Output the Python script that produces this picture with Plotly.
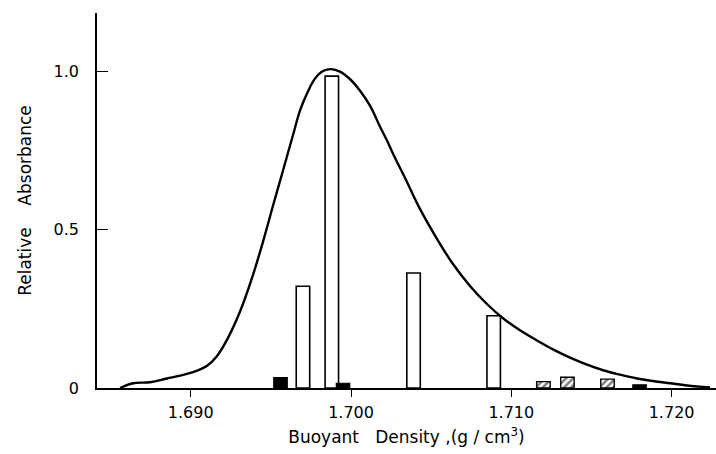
import plotly.graph_objects as go

# Density-gradient absorbance profile (smooth curve)
curve_density = [1.68559, 1.68640, 1.68746, 1.68852, 1.68933, 1.69014, 1.69102, 1.69164,
                 1.69226, 1.69308, 1.69389, 1.69451, 1.69513, 1.69557, 1.69638, 1.69682,
                 1.69726, 1.69775, 1.69825, 1.69875, 1.69931, 1.69994, 1.70056, 1.70119,
                 1.70181, 1.70225, 1.70262, 1.70349, 1.70430, 1.70537, 1.70636, 1.70742,
                 1.70848, 1.70948, 1.71054, 1.71160, 1.71260, 1.71366, 1.71472, 1.71572,
                 1.71678, 1.71784, 1.71884, 1.71990, 1.72096, 1.72240]
curve_absorbance = [0.000, 0.015, 0.018, 0.030, 0.039, 0.050, 0.070, 0.101,
                    0.152, 0.242, 0.358, 0.462, 0.575, 0.653, 0.798, 0.876,
                    0.930, 0.976, 1.000, 1.006, 0.998, 0.974, 0.938, 0.890,
                    0.824, 0.780, 0.739, 0.650, 0.565, 0.470, 0.391, 0.322,
                    0.265, 0.220, 0.182, 0.150, 0.122, 0.096, 0.074, 0.056,
                    0.042, 0.030, 0.022, 0.015, 0.008, 0.002]

# Open bars
open_density = [1.6970, 1.6988, 1.7039, 1.7089]
open_height = [0.321, 0.984, 0.363, 0.228]

# Filled (black) bars
filled_density = [1.6956, 1.6995, 1.7180]
filled_height = [0.033, 0.015, 0.010]

# Hatched bars
hatched_density = [1.7120, 1.7135, 1.7160]
hatched_height = [0.020, 0.034, 0.028]

x_tick_vals = [1.690, 1.700, 1.710, 1.720]
x_tick_text = ["1.690", "1.700", "1.710", "1.720"]
y_tick_vals = [0, 0.5, 1.0]
y_tick_text = ["0", "0.5", "1.0"]

BAR_W = 0.00084
FONT = "'DejaVu Sans', Lato, sans-serif"

fig = go.Figure()
fig.add_trace(go.Bar(x=open_density, y=open_height, width=BAR_W,
                     marker=dict(color="white", line=dict(color="black", width=1.6)),
                     showlegend=False))
fig.add_trace(go.Bar(x=filled_density, y=filled_height, width=BAR_W,
                     marker=dict(color="black", line=dict(color="black", width=1.2)),
                     showlegend=False))
fig.add_trace(go.Bar(x=hatched_density, y=hatched_height, width=BAR_W,
                     marker=dict(color="white", line=dict(color="black", width=1.4),
                                 pattern=dict(shape="/", fgcolor="black", bgcolor="white",
                                              size=5, solidity=0.5)),
                     showlegend=False))
fig.add_trace(go.Scatter(x=curve_density, y=curve_absorbance, mode="lines",
                         line=dict(color="black", width=2.4, shape="spline", smoothing=1.1),
                         showlegend=False))

fig.update_layout(
    width=716, height=454,
    margin=dict(l=97, r=0, t=13, b=66),
    paper_bgcolor="white", plot_bgcolor="white",
    barmode="overlay",
    font=dict(family=FONT, color="black"),
    xaxis=dict(range=[1.68415, 1.72277], showgrid=False, zeroline=False,
               showline=True, linecolor="black", linewidth=1.5,
               ticks="outside", ticklen=7, tickwidth=1.3, tickcolor="black",
               tickvals=x_tick_vals, ticktext=x_tick_text,
               tickfont=dict(size=16), ticklabelstandoff=2,
               title=dict(text="Buoyant   Density ,(g / cm<sup>3</sup>)",
                          font=dict(size=17), standoff=10)),
    yaxis=dict(range=[0, 1.183], showgrid=False, zeroline=False,
               showline=True, linecolor="black", linewidth=1.5,
               ticks="inside", ticklen=11, tickwidth=1.3, tickcolor="black",
               tickvals=y_tick_vals, ticktext=y_tick_text,
               tickfont=dict(size=16), ticklabelstandoff=13,
               title=dict(text="Relative    Absorbance", font=dict(size=17), standoff=18)),
)

fig.write_html("out.html")
